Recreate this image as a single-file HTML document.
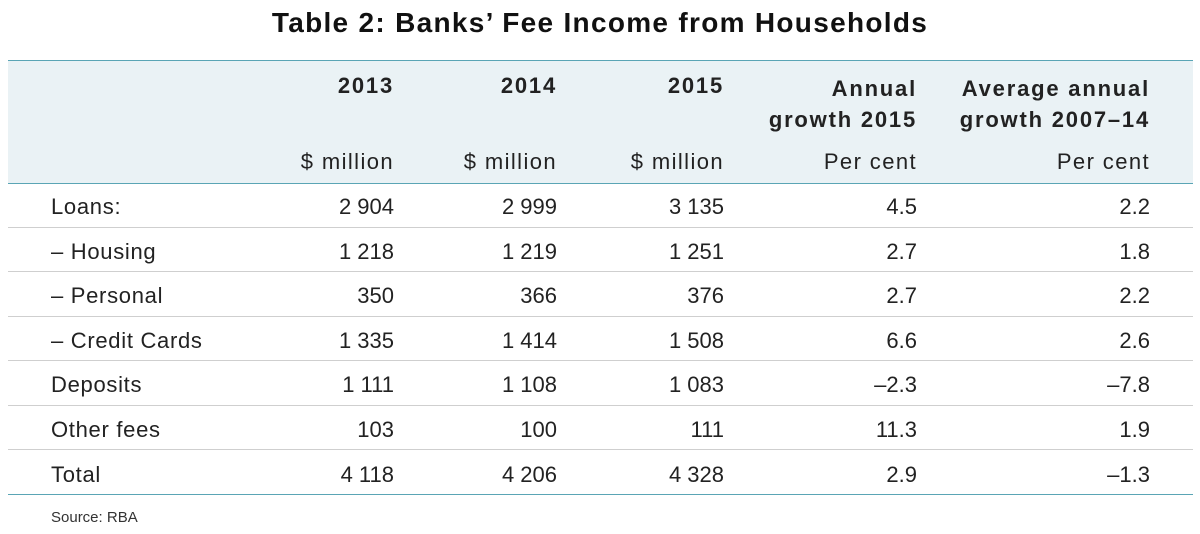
<!DOCTYPE html>
<html><head><style>
body{margin:0;width:1200px;height:534px;background:#fff;font-family:"Liberation Sans",sans-serif;color:#222;position:relative;overflow:hidden}
.t{position:absolute;white-space:nowrap}
.title{left:0;width:1200px;text-align:center;top:7px;font-size:28px;letter-spacing:1.3px;font-weight:bold;color:#111}
.hdr{position:absolute;left:8px;width:1185px;top:60px;height:122px;background:#eaf2f5;border-top:1px solid #5aa5b5;border-bottom:1px solid #5aa5b5}
.r{text-align:right;font-size:22px}
.b{font-weight:bold;letter-spacing:1.8px}
.h{letter-spacing:1.4px}
.lab{letter-spacing:0.7px}
.line{position:absolute;left:8px;width:1185px;height:1px;background:#cfcfcf}
</style></head><body>
<div class="t title">Table 2: Banks’ Fee Income from Households</div>
<div class="hdr"></div>
<div class="t r b" style="right:806px;top:73px">2013</div>
<div class="t r b" style="right:643px;top:73px">2014</div>
<div class="t r b" style="right:476px;top:73px">2015</div>
<div class="t r b" style="right:283px;top:73px;line-height:31px">Annual<br>growth 2015</div>
<div class="t r b" style="right:50px;top:73px;line-height:31px">Average annual<br>growth 2007–14</div>
<div class="t r h" style="right:806px;top:149px">$ million</div>
<div class="t r h" style="right:643px;top:149px">$ million</div>
<div class="t r h" style="right:476px;top:149px">$ million</div>
<div class="t r h" style="right:283px;top:149px">Per cent</div>
<div class="t r h" style="right:50px;top:149px">Per cent</div>
<div id="rows"></div>
<div class="line" style="top:227px"></div>
<div class="line" style="top:271px"></div>
<div class="line" style="top:316px"></div>
<div class="line" style="top:360px"></div>
<div class="line" style="top:405px"></div>
<div class="line" style="top:449px"></div>
<div class="line" style="top:494px;background:#5aa5b5"></div>
<div class="t" style="left:51px;top:509px;font-size:15px;color:#333">Source: RBA</div>
<script>
var d=[["Loans:","2 904","2 999","3 135","4.5","2.2"],["– Housing","1 218","1 219","1 251","2.7","1.8"],["– Personal","350","366","376","2.7","2.2"],["– Credit Cards","1 335","1 414","1 508","6.6","2.6"],["Deposits","1 111","1 108","1 083","–2.3","–7.8"],["Other fees","103","100","111","11.3","1.9"],["Total","4 118","4 206","4 328","2.9","–1.3"]];
var rt=[806,643,476,283,50],h="";
d.forEach(function(r,i){var y=194+i*44.6;
h+='<div class="t lab" style="font-size:22px;left:51px;top:'+y+'px">'+r[0]+'</div>';
for(var j=1;j<6;j++)h+='<div class="t r" style="right:'+rt[j-1]+'px;top:'+y+'px">'+r[j]+'</div>';});
document.getElementById("rows").innerHTML=h;
</script>
</body></html>
